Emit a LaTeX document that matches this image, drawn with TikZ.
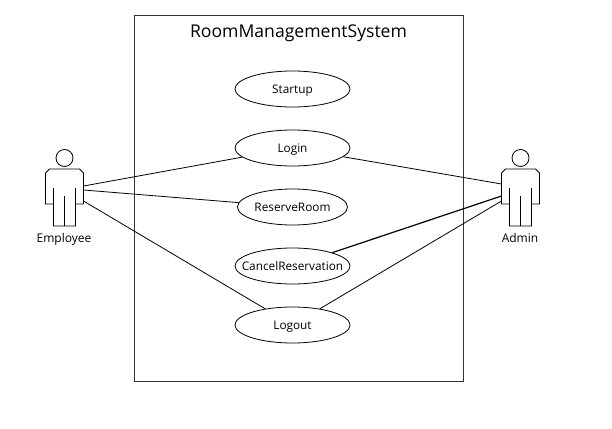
\documentclass[tikz,border=0pt]{standalone}
\usepackage{fontspec}
\setmainfont{Open Sans}
\usetikzlibrary{shapes.geometric, positioning}
\newcommand{\casename}[1]{\makebox[0pt]{#1}}
\tikzset{
  usecase/.style={ellipse,draw=black,thick,fill=white,inner sep=0pt,minimum width=115pt,minimum height=36pt,text height=8pt,text depth=0pt,font=\fontsize{11.8}{14}\selectfont},
  systembox/.style={rectangle,draw=black!80,thick,inner sep=0pt,minimum width=329pt,minimum height=366pt},
  title/.style={inner sep=0pt,font=\fontsize{17.6}{20}\selectfont},
  actorname/.style={inner sep=0pt,anchor=base,font=\fontsize{12}{14}\selectfont},
  relation/.style={thick,black},
  actor/.pic={
    \draw[thick] (0,0) circle (8.5);
    \draw[thick] (-15,11) -- (15,11) -- (19,15) -- (19,46) -- (11,46) -- (11,68) -- (-11,68) -- (-11,46) -- (-19,46) -- (-19,15) -- cycle;
    \draw[thick] (-11,46) -- (-11,30);
    \draw[thick] (11,46) -- (11,30);
    \draw[thick] (0,68) -- (0,38);
    \coordinate (-east1) at (19,28);
    \coordinate (-east2) at (19,32);
    \coordinate (-east3) at (19,43);
    \coordinate (-west1) at (-19,26);
    \coordinate (-west2) at (-19,38);
    \coordinate (-west3) at (-19,43);
  },
}

\begin{document}
\begin{tikzpicture}[x=1pt,y=-1pt]
	\useasboundingbox (0,0) rectangle (612,428);
	\node[systembox] (system) at (298.5,198) {};
	\node[title,below=9.5pt of system.north] (systemname) {RoomManagementSystem};

	\node[usecase] (startup) at (292.5,89) {\casename{Startup}};
	\node[usecase,below=22.2pt of startup] (login) {\casename{Login}};
	\node[usecase,below=22.2pt of login,minimum width=110pt] (reserve) {\casename{ReserveRoom}};
	\node[usecase,below=22.2pt of reserve] (cancel) {\casename{CancelReservation}};
	\node[usecase,below=22.2pt of cancel] (logout) {\casename{Logout}};

	\pic (employee) at (64.5,158) {actor};
	\pic (admin) at (520.5,158) {actor};
	\node[actorname] (employeename) at (64,242) {Employee};
	\node[actorname] (adminname) at (520,242) {Admin};

	\draw[relation] (employee-east1) -- (login);
	\draw[relation] (employee-east2) -- (reserve);
	\draw[relation] (employee-east3) -- (logout);
	\draw[relation] (admin-west1) -- (login);
	\draw[relation,very thick] (admin-west2) -- (cancel);
	\draw[relation] (admin-west3) -- (logout);
\end{tikzpicture}
\end{document}
